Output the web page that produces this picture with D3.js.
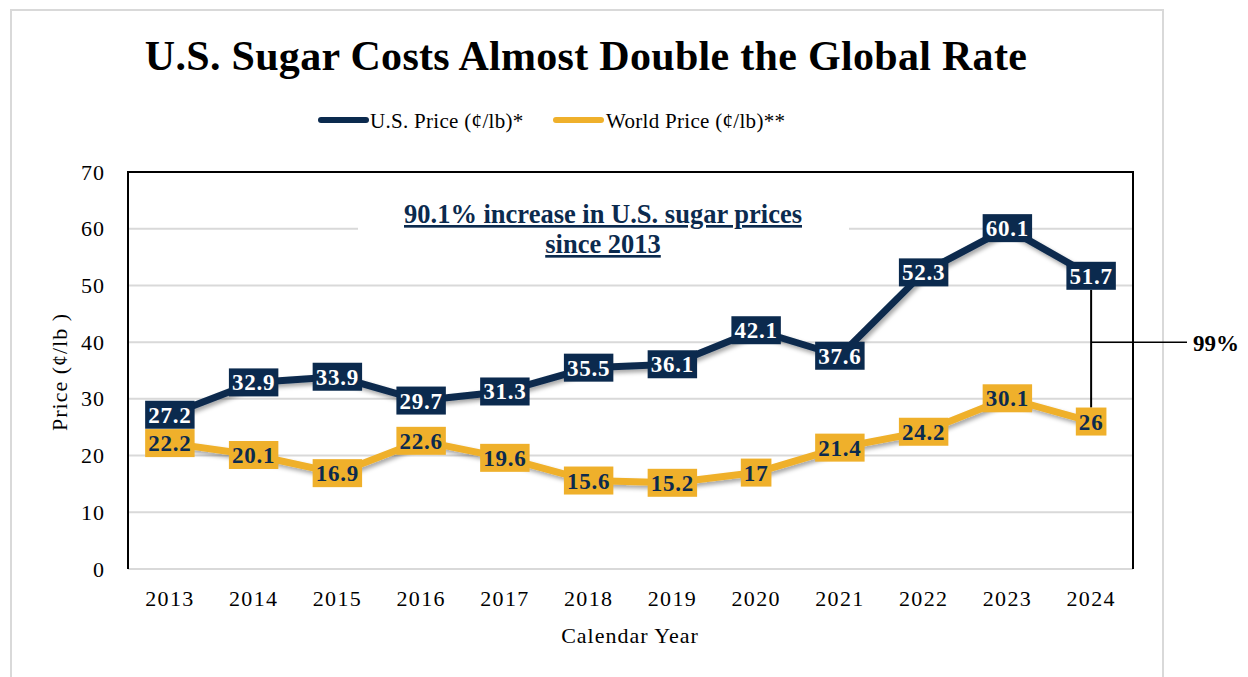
<!DOCTYPE html>
<html>
<head>
<meta charset="utf-8">
<script src="https://cdn.jsdelivr.net/npm/d3@7"></script>
<style>
  body { margin: 0; background: #fff; }
  text { font-family: "Liberation Serif", "Times New Roman", serif; }
</style>
</head>
<body>
<svg width="1248" height="677"></svg>
<script>
var years = ["2013", "2014", "2015", "2016", "2017", "2018", "2019", "2020", "2021", "2022", "2023", "2024"];
var usPrice = [27.2, 32.9, 33.9, 29.7, 31.3, 35.5, 36.1, 42.1, 37.6, 52.3, 60.1, 51.7];
var worldPrice = [22.2, 20.1, 16.9, 22.6, 19.6, 15.6, 15.2, 17, 21.4, 24.2, 30.1, 26];
var yTicks = [0, 10, 20, 30, 40, 50, 60, 70];
var seriesNames = ["U.S. Price (¢/lb)*", "World Price (¢/lb)**"];

var navy = "#0b2a4e",
    gold = "#efb02b",
    grid = "#d9d9d9";

var svg = d3.select("svg");

var plotLeft = 128, plotRight = 1133, plotTop = 172, plotBottom = 569;

var x = d3.scaleBand().domain(years).range([plotLeft, plotRight]);
var y = d3.scaleLinear().domain([0, 70]).range([plotBottom, plotTop]);
function cx(d) { return x(d) + x.bandwidth() / 2; }

// drop shadow for lines
var defs = svg.append("defs");
defs.append("filter")
    .attr("id", "shadow")
    .attr("x", "-10%").attr("y", "-20%").attr("width", "120%").attr("height", "140%")
  .append("feDropShadow")
    .attr("dx", 2).attr("dy", 3).attr("stdDeviation", 2)
    .attr("flood-color", "#000").attr("flood-opacity", 0.35);

// outer frame
svg.append("rect")
    .attr("x", 11).attr("y", 10)
    .attr("width", 1152).attr("height", 700)
    .attr("fill", "none")
    .attr("stroke", grid)
    .attr("stroke-width", 2);

// title
svg.append("text")
    .attr("x", 586).attr("y", 70)
    .attr("text-anchor", "middle")
    .attr("font-weight", "bold")
    .attr("font-size", 42)
    .attr("letter-spacing", 0.3)
    .attr("fill", "#000")
    .text("U.S. Sugar Costs Almost Double the Global Rate");

// legend
var legend = svg.append("g");
var legendPos = [{ x1: 321, x2: 366, tx: 370, c: navy }, { x1: 556, x2: 601, tx: 606, c: gold }];
legendPos.forEach(function(p, i) {
    legend.append("line")
        .attr("x1", p.x1).attr("x2", p.x2)
        .attr("y1", 120).attr("y2", 120)
        .attr("stroke", p.c).attr("stroke-width", 6)
        .attr("stroke-linecap", "round");
    legend.append("text")
        .attr("x", p.tx).attr("y", 128)
        .attr("font-size", 21)
        .attr("letter-spacing", 0.3)
        .attr("fill", "#000")
        .text(seriesNames[i]);
});

// gridlines
svg.append("g")
    .selectAll("line")
    .data(yTicks)
    .enter().append("line")
    .attr("x1", plotLeft).attr("x2", plotRight)
    .attr("y1", function(d) { return y(d); })
    .attr("y2", function(d) { return y(d); })
    .attr("stroke", grid)
    .attr("stroke-width", 2);

// plot border (top, left, right in black)
svg.append("path")
    .attr("d", "M" + plotLeft + "," + plotBottom + "V" + plotTop + "H" + plotRight + "V" + plotBottom)
    .attr("fill", "none")
    .attr("stroke", "#000")
    .attr("stroke-width", 2);

// y axis
var yAxis = svg.append("g")
    .attr("transform", "translate(" + plotLeft + ",0)")
    .call(d3.axisLeft(y).tickValues(yTicks).tickSize(0).tickPadding(23));
yAxis.select(".domain").remove();
yAxis.selectAll("text")
    .attr("font-family", "Liberation Serif, serif")
    .attr("font-size", 22)
    .attr("letter-spacing", 1)
    .attr("fill", "#000");

// x axis
var xAxis = svg.append("g")
    .attr("transform", "translate(0," + plotBottom + ")")
    .call(d3.axisBottom(x).tickSize(0).tickPadding(21));
xAxis.select(".domain").remove();
xAxis.selectAll("text")
    .attr("font-family", "Liberation Serif, serif")
    .attr("font-size", 22)
    .attr("letter-spacing", 1.3)
    .attr("fill", "#000");

// axis titles
svg.append("text")
    .attr("x", 630).attr("y", 643)
    .attr("text-anchor", "middle")
    .attr("font-size", 22)
    .attr("letter-spacing", 1)
    .attr("fill", "#000")
    .text("Calendar Year");

svg.append("text")
    .attr("transform", "translate(67,372) rotate(-90)")
    .attr("text-anchor", "middle")
    .attr("font-size", 22)
    .attr("letter-spacing", 1)
    .attr("fill", "#000")
    .text("Price (¢/lb )");

// annotation box
svg.append("rect")
    .attr("x", 358).attr("y", 198)
    .attr("width", 491).attr("height", 64)
    .attr("fill", "#fff");
[["90.1% increase in U.S. sugar prices", 223], ["since 2013", 253]].forEach(function(t) {
    svg.append("text")
        .attr("x", 603).attr("y", t[1])
        .attr("text-anchor", "middle")
        .attr("font-weight", "bold")
        .attr("font-size", 26.5)
        .attr("fill", navy)
        .attr("text-decoration", "underline")
        .text(t[0]);
});

// lines
var line = d3.line()
    .x(function(d, i) { return cx(years[i]); })
    .y(function(d) { return y(d); });

[[worldPrice, gold], [usPrice, navy]].forEach(function(s) {
    svg.append("path")
        .datum(s[0])
        .attr("d", line)
        .attr("fill", "none")
        .attr("stroke", s[1])
        .attr("stroke-width", 7)
        .attr("stroke-linejoin", "round")
        .attr("filter", "url(#shadow)");
});

// 99% gap bracket
var last = years[years.length - 1];
var gapX = cx(last);
svg.append("line")
    .attr("x1", gapX).attr("x2", gapX)
    .attr("y1", y(usPrice[11]) + 14).attr("y2", y(worldPrice[11]) - 14)
    .attr("stroke", "#000").attr("stroke-width", 2);
svg.append("line")
    .attr("x1", gapX).attr("x2", 1187)
    .attr("y1", y(40)).attr("y2", y(40))
    .attr("stroke", "#000").attr("stroke-width", 1.5);
svg.append("text")
    .attr("x", 1193).attr("y", y(40) + 9)
    .attr("font-weight", "bold")
    .attr("font-size", 23)
    .attr("fill", "#000")
    .text("99%");

// data labels
function labels(values, bg, fg) {
    var g = svg.append("g");
    values.forEach(function(v, i) {
        var lg = g.append("g").attr("transform", "translate(" + cx(years[i]) + "," + y(v) + ")");
        var r = lg.append("rect").attr("fill", bg);
        var t = lg.append("text")
            .attr("text-anchor", "middle")
            .attr("y", 8)
            .attr("font-weight", "bold")
            .attr("font-size", 23)
            .attr("letter-spacing", 0.8)
            .attr("fill", fg)
            .text(String(v));
        var w = t.node().getComputedTextLength() + 6;
        r.attr("x", -w / 2).attr("y", -14).attr("width", w).attr("height", 28);
    });
}
labels(usPrice, navy, "#fff");
labels(worldPrice, gold, navy);
</script>
</body>
</html>
